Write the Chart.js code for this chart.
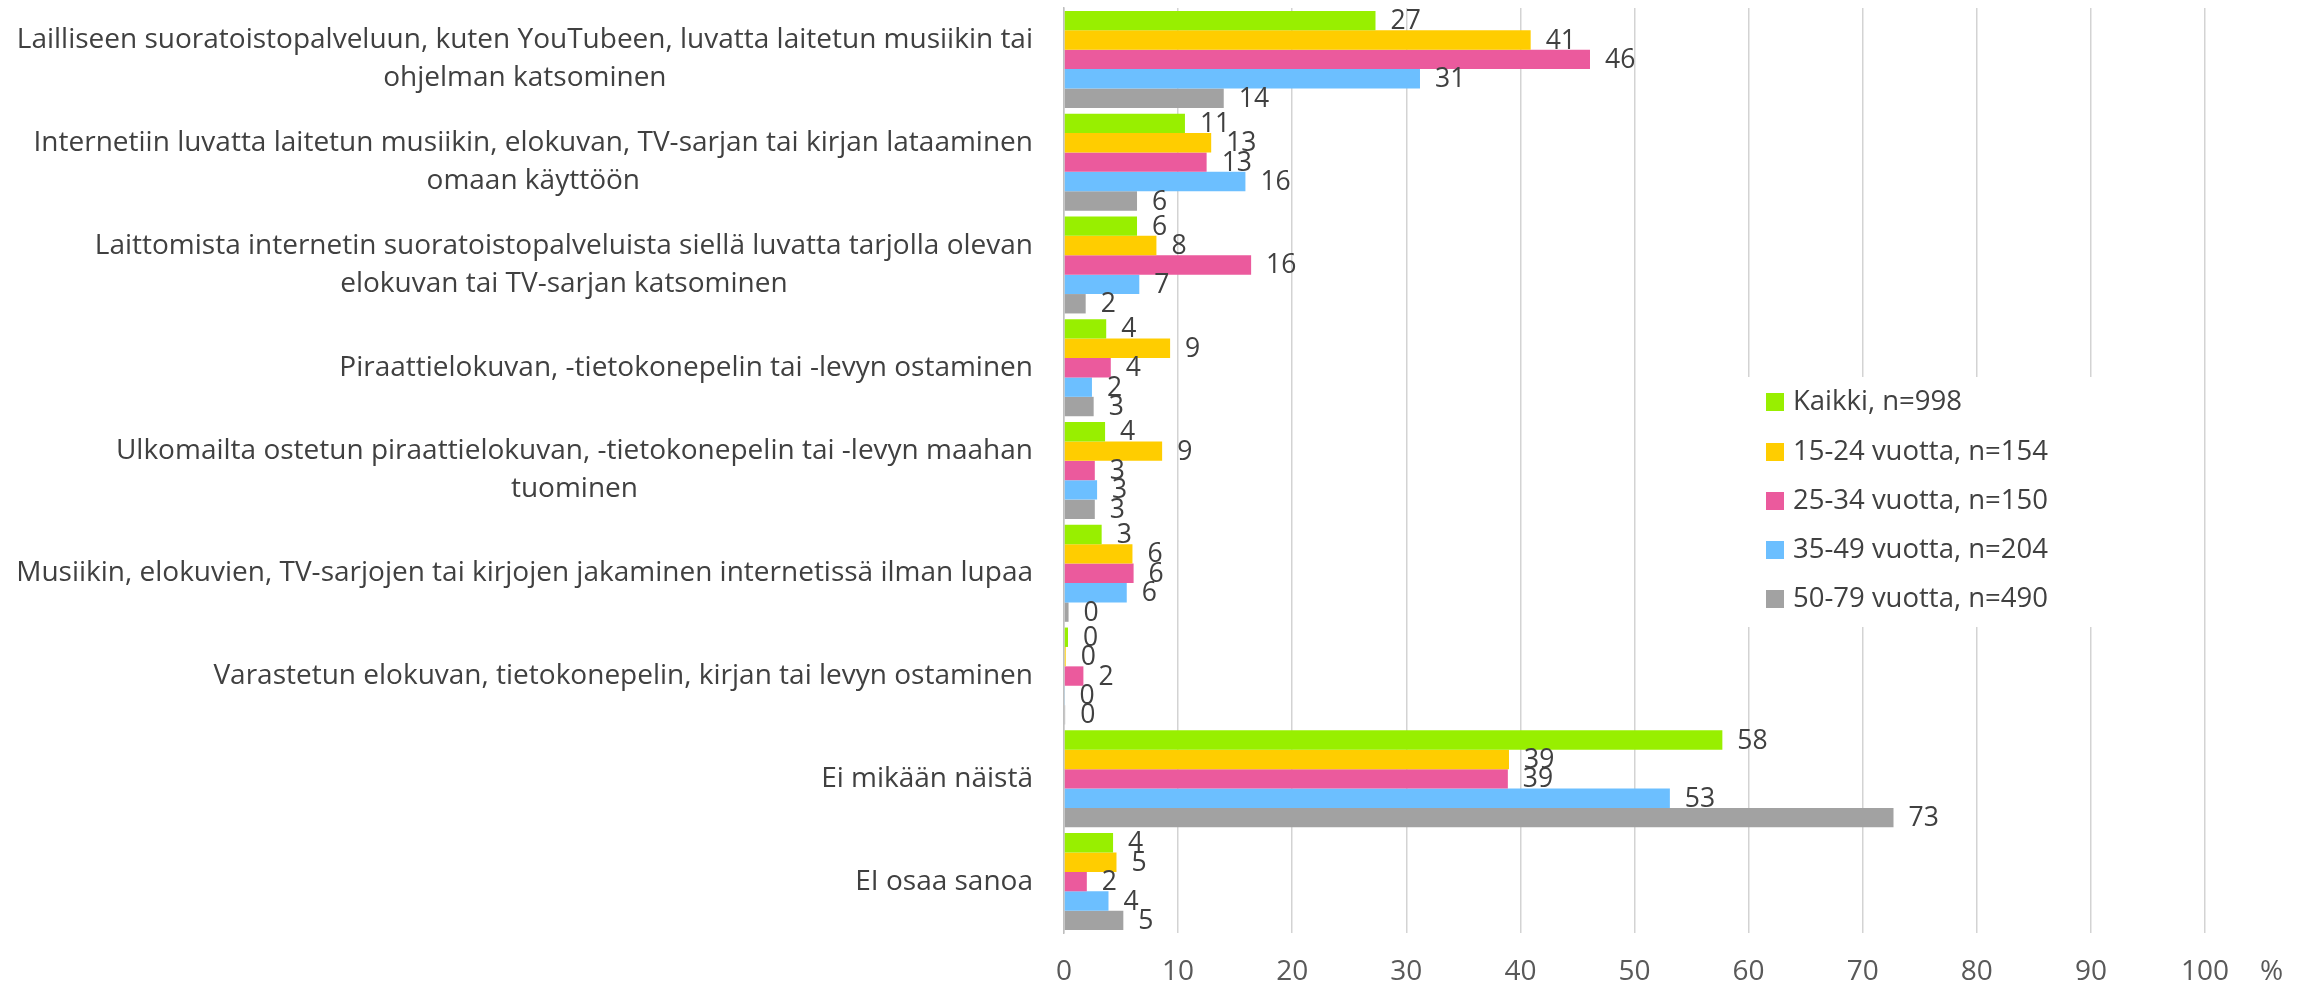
<!DOCTYPE html>
<html>
<head>
<meta charset="utf-8">
<script src="https://cdn.jsdelivr.net/npm/chart.js@4.4.0/dist/chart.umd.min.js"></script>
<style>
  html, body { margin: 0; padding: 0; background: #fff; }
  #myChart { display: block; }
</style>
</head>
<body>
<canvas id="myChart" width="2311" height="990"></canvas>
<script>
const categories = [
    ["Lailliseen suoratoistopalveluun, kuten YouTubeen, luvatta laitetun musiikin tai", "ohjelman katsominen"],
    ["Internetiin luvatta laitetun musiikin, elokuvan, TV-sarjan tai kirjan lataaminen", "omaan käyttöön"],
    ["Laittomista internetin suoratoistopalveluista siellä luvatta tarjolla olevan", "elokuvan tai TV-sarjan katsominen"],
    ["Piraattielokuvan, -tietokonepelin tai -levyn ostaminen"],
    ["Ulkomailta ostetun piraattielokuvan, -tietokonepelin tai -levyn maahan", "tuominen"],
    ["Musiikin, elokuvien, TV-sarjojen tai kirjojen jakaminen internetissä ilman lupaa"],
    ["Varastetun elokuvan, tietokonepelin, kirjan tai levyn ostaminen"],
    ["Ei mikään näistä"],
    ["EI osaa sanoa"]
]

const seriesNames = ["Kaikki, n=998", "15-24 vuotta, n=154", "25-34 vuotta, n=150", "35-49 vuotta, n=204", "50-79 vuotta, n=490"]
const seriesColors = ["#98ef00", "#ffcd00", "#eb5a9d", "#6cbfff", "#a2a2a2"]

const kaikki = [27.3, 10.6, 6.4, 3.7, 3.6, 3.3, 0.35, 57.7, 4.3]
const v15_24 = [40.9, 12.9, 8.1, 9.3, 8.6, 6.0, 0.15, 39.0, 4.6]
const v25_34 = [46.1, 12.5, 16.4, 4.1, 2.7, 6.1, 1.7, 38.9, 2.0]
const v35_49 = [31.2, 15.9, 6.6, 2.45, 2.9, 5.5, 0.05, 53.1, 3.9]
const v50_79 = [14.0, 6.4, 1.9, 2.6, 2.7, 0.4, 0.1, 72.7, 5.2]

const xTicks = [0, 10, 20, 30, 40, 50, 60, 70, 80, 90, 100]

const fontFamily = '"Open Sans", Lato, sans-serif'
const textColor = "#404040"

// category labels, right aligned block, lines centered inside it
const categoryLabels = {
    id: "categoryLabels",
    afterDraw(chart) {
        const ctx = chart.ctx
        const yScale = chart.scales.y
        const right = chart.chartArea.left - 31
        const lineH = 38
        ctx.save()
        ctx.font = "28px " + fontFamily
        ctx.fillStyle = textColor
        ctx.textAlign = "center"
        ctx.textBaseline = "middle"
        categories.forEach(function (lines, i) {
            const y = yScale.getPixelForTick(i)
            let maxW = 0
            lines.forEach(function (l) { maxW = Math.max(maxW, ctx.measureText(l).width) })
            const cx = right - maxW / 2
            const y0 = y - (lines.length - 1) * lineH / 2
            lines.forEach(function (l, j) { ctx.fillText(l, cx, y0 + j * lineH) })
        })
        ctx.restore()
    }
}

// value labels at the end of each bar
const valueLabels = {
    id: "valueLabels",
    afterDatasetsDraw(chart) {
        const ctx = chart.ctx
        ctx.save()
        ctx.font = "26.5px " + fontFamily
        ctx.fillStyle = textColor
        ctx.textAlign = "left"
        ctx.textBaseline = "middle"
        chart.data.datasets.forEach(function (ds, di) {
            chart.getDatasetMeta(di).data.forEach(function (bar, i) {
                ctx.fillText(String(Math.round(ds.data[i])), bar.x + 15, bar.y + 1)
            })
        })
        ctx.restore()
    }
}

// legend inside the plot, on white background
const insideLegend = {
    id: "insideLegend",
    afterDraw(chart) {
        const ctx = chart.ctx
        const x = 1766
        const rowY = [402, 452, 501, 550, 599]
        ctx.save()
        ctx.fillStyle = "#ffffff"
        ctx.fillRect(1742, 377, 400, 250)
        ctx.font = "27.5px " + fontFamily
        ctx.textBaseline = "middle"
        ctx.textAlign = "left"
        chart.data.datasets.forEach(function (ds, i) {
            ctx.fillStyle = ds.backgroundColor
            ctx.fillRect(x, rowY[i] - 9, 18, 18)
            ctx.fillStyle = textColor
            ctx.fillText(ds.label, x + 27, rowY[i])
        })
        ctx.fillStyle = "#595959"
        ctx.font = "28px " + fontFamily
        ctx.fillText("%", 2260, 972)
        ctx.restore()
    }
}

draw_chart()

function draw_chart() {
    const values = [kaikki, v15_24, v25_34, v35_49, v50_79]
    const data = {
        labels: categories.map(function (c) { return c.join(" ") }),
        datasets: values.map(function (v, i) {
            return {
                label: seriesNames[i],
                data: v,
                backgroundColor: seriesColors[i],
                categoryPercentage: 0.944,
                barPercentage: 1.0
            }
        })
    }
    const options = {
        indexAxis: "y",
        responsive: false,
        animation: false,
        layout: { padding: { top: 8, right: 106, left: 0, bottom: 0 } },
        plugins: { legend: { display: false }, tooltip: { enabled: false } },
        scales: {
            x: {
                min: 0,
                max: 100,
                afterBuildTicks: function (s) { s.ticks = xTicks.map(function (v) { return { value: v } }) },
                ticks: { font: { size: 28, family: fontFamily }, color: "#595959", padding: 22 },
                grid: { color: "#d3d3d3", lineWidth: 1.5, drawTicks: false },
                border: { display: false },
                afterFit: function (s) { s.height = 57 }
            },
            y: {
                ticks: { display: false },
                grid: { display: false, drawTicks: false },
                border: { color: "#bfbfbf", width: 1.5 },
                afterFit: function (s) { s.width = 1064 }
            }
        }
    }
    const ctx = document.getElementById("myChart")
    const myBarChart = new Chart(ctx, {
        type: "bar",
        data: data,
        options: options,
        plugins: [categoryLabels, valueLabels, insideLegend]
    })
}
</script>
</body>
</html>
